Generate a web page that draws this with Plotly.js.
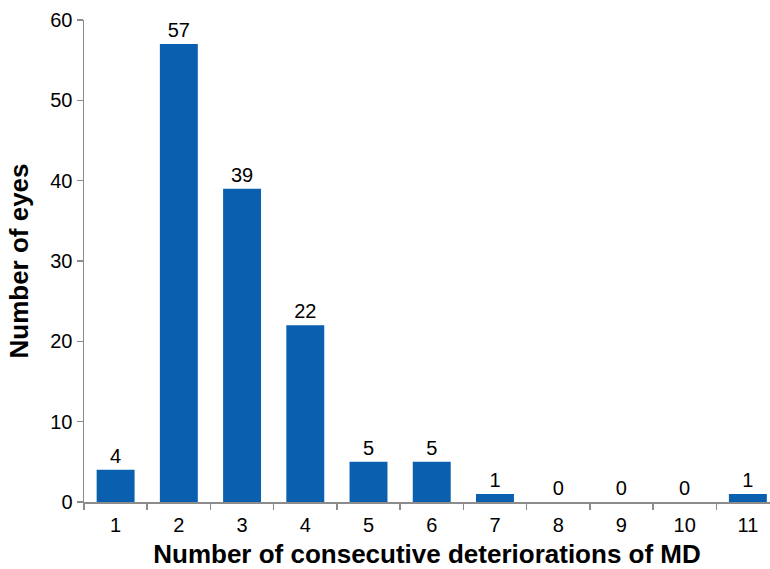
<!DOCTYPE html>
<html><head><meta charset="utf-8">
<script src="https://cdn.plot.ly/plotly-3.0.1.min.js"></script>
<style>html,body{margin:0;padding:0;background:#fff;}#chart{width:770px;height:569px;}</style>
</head><body><div id="chart"></div>
<script>
var categories = ["1","2","3","4","5","6","7","8","9","10","11"];
var eyes = [4, 57, 39, 22, 5, 5, 1, 0, 0, 0, 1];
var yTicks = [0, 10, 20, 30, 40, 50, 60];

var trace = {
  type: 'bar',
  x: categories,
  y: eyes,
  marker: {color: '#0a60ae'},
  text: eyes.map(String),
  textposition: 'outside',
  cliponaxis: false,
  textfont: {family: 'Liberation Sans, Arial, sans-serif', size: 20, color: '#000'},
  hoverinfo: 'none'
};

var layout = {
  width: 770, height: 569,
  margin: {l: 84, r: 0, t: 20, b: 67},
  paper_bgcolor: '#fff', plot_bgcolor: '#fff',
  bargap: 0.4,
  showlegend: false,
  font: {family: 'Liberation Sans, Arial, sans-serif', size: 20, color: '#000'},
  xaxis: {
    type: 'category',
    range: [-0.5, 10.35],
    showline: true, linecolor: '#8c8c8c', linewidth: 1.5,
    ticks: 'outside', tickson: 'boundaries', ticklen: 6, tickcolor: '#8c8c8c', tickwidth: 1.5,
    ticklabelstandoff: 4,
    showgrid: false, zeroline: false,
    tickfont: {size: 20},
    title: {text: '<b>Number of consecutive deteriorations of MD</b>', font: {size: 26}, standoff: 12}
  },
  yaxis: {
    range: [0, 60],
    tickvals: yTicks,
    showline: true, linecolor: '#8c8c8c', linewidth: 1.5,
    ticks: 'outside', ticklen: 6, tickcolor: '#8c8c8c', tickwidth: 1.5,
    showgrid: false, zeroline: false,
    tickfont: {size: 20},
    title: {text: '<b>Number of eyes</b>', font: {size: 26}, standoff: 14}
  }
};

Plotly.newPlot('chart', [trace], layout, {displayModeBar: false, staticPlot: true});
</script>
</body></html>
